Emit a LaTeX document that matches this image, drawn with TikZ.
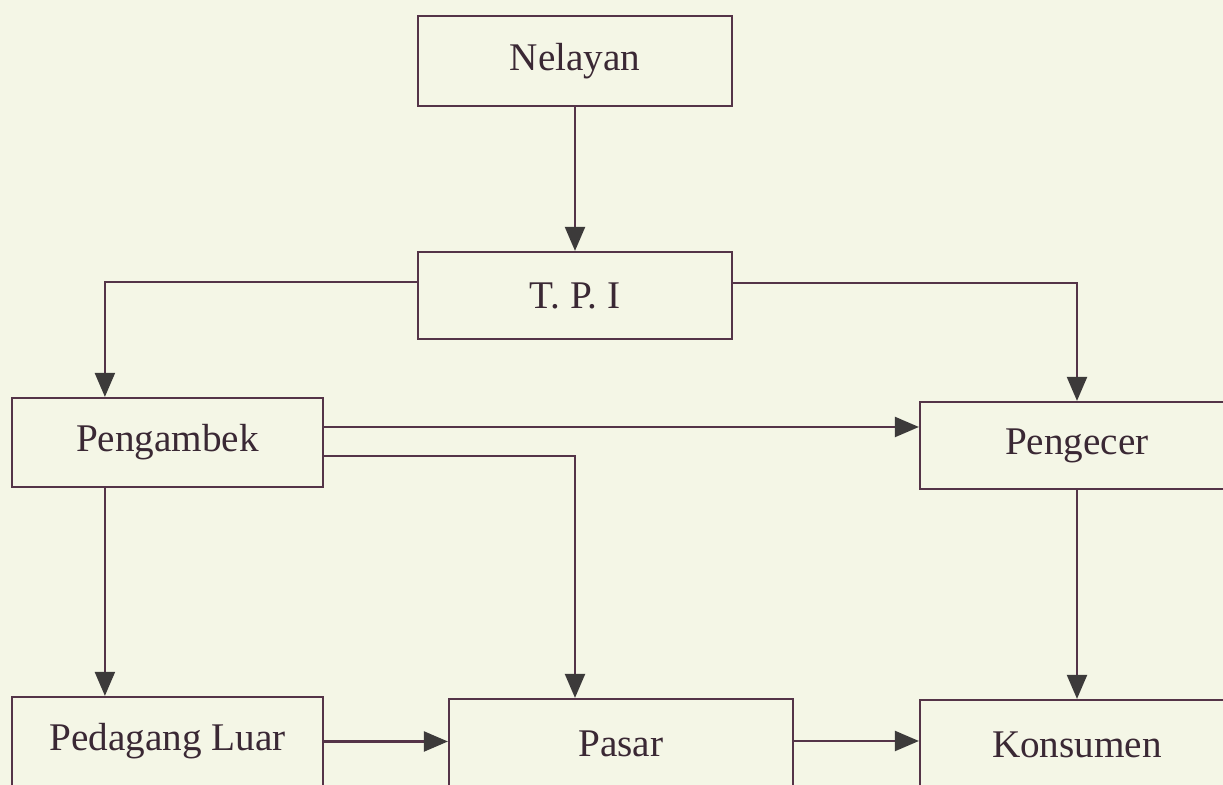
\documentclass[tikz,border=0pt]{standalone}
\usepackage{fontspec}
\setmainfont{Liberation Serif}
\usetikzlibrary{arrows.meta,calc}
\definecolor{bg}{RGB}{244,246,230}
\definecolor{ln}{RGB}{84,52,72}
\definecolor{tip}{RGB}{60,58,58}
\definecolor{txt}{RGB}{58,40,52}
\tikzset{
  box/.style={draw=ln, line width=1.1pt, fill=none, inner sep=0pt, text=txt,
    font=\fontsize{19.6pt}{22pt}\selectfont},
  arr/.style={draw=ln, line width=1.1pt, -{Triangle[length=12pt,width=10pt,color=tip]}},
}
\begin{document}
\begin{tikzpicture}[x=0.5pt,y=-0.5pt]
\useasboundingbox (0,0) rectangle (1223,785);
\fill[bg] (0,0) rectangle (1223,785);
\clip (0,0) rectangle (1223,785);
\node[box, minimum width=157pt, minimum height=45pt] (nel) at (575,61) {Nelayan};
\node[box, minimum width=157pt, minimum height=43.5pt] (tpi) at (575,295.5) {T. P. I};
\node[box, minimum width=155.5pt, minimum height=44.5pt] (peng) at (167.5,442.5) {Pengambek};
\node[box, minimum width=157pt, minimum height=43.5pt] (pgc) at (1077,445.5) {Pengecer};
\node[box, minimum width=155.5pt, minimum height=44.5pt] (pl) at (167.5,741.5) {Pedagang Luar};
\node[box, minimum width=172pt, minimum height=44.5pt] (pas) at (621,743.5) {Pasar};
\node[box, minimum width=157pt, minimum height=44.5pt] (kon) at (1077,744.5) {Konsumen};
\coordinate (tl) at ($(tpi.west)+(0,-13.5)$);
\coordinate (pn) at ($(peng.north west)+(94,0)$);
\coordinate (tr) at ($(tpi.east)+(0,-12.5)$);
\coordinate (pa) at ($(peng.east)+(0,-15.5)$);
\coordinate (pb) at ($(peng.east)+(0,13.5)$);
\coordinate (pasn) at ($(pas.north)+(-46,0)$);
\coordinate (ps) at ($(peng.south west)+(94,0)$);
\coordinate (pse) at ($(pas.east)+(0,-2.5)$);
\draw[arr] (nel) -- (tpi);
\draw[arr] (tl) -| (pn);
\draw[arr] (tr) -| (pgc.north);
\draw[arr] (pa) -- (pgc.west |- pa);
\draw[arr] (pb) -| (pasn);
\draw[arr] (ps) -- (pl.north -| ps);
\draw[arr] (pl.east) -- (pas.west |- pl.east);
\draw[arr] (pgc) -- (kon);
\draw[arr] (pse) -- (kon.west |- pse);
\end{tikzpicture}
\end{document}
